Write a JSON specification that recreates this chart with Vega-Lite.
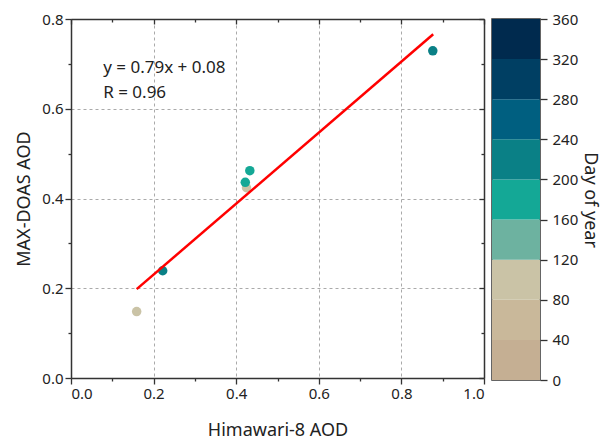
{
  "$schema": "https://vega.github.io/schema/vega-lite/v6.json",
  "background": "white",
  "padding": {"left": 15, "top": 11, "right": 5, "bottom": 5},
  "bounds": "flush",
  "spacing": 8,
  "config": {
    "font": "Noto Sans",
    "axis": {"labelFont": "Noto Sans", "titleFont": "Noto Sans", "labelColor": "#222", "titleColor": "#222", "titleFontWeight": "normal", "domainColor": "#333", "tickColor": "#333", "domainWidth": 1.5, "tickWidth": 1.3}
  },
  "datasets": {
    "points": [
      {"himawari": 0.159, "maxdoas": 0.148, "day": 100},
      {"himawari": 0.222, "maxdoas": 0.239, "day": 215},
      {"himawari": 0.425, "maxdoas": 0.424, "day": 100},
      {"himawari": 0.422, "maxdoas": 0.436, "day": 180},
      {"himawari": 0.433, "maxdoas": 0.462, "day": 180},
      {"himawari": 0.876, "maxdoas": 0.729, "day": 215}
    ],
    "fit": [
      {"himawari": 0.159, "maxdoas": 0.198},
      {"himawari": 0.877, "maxdoas": 0.766}
    ],
    "note": [
      {"himawari": 0.078, "maxdoas": 0.690, "label": "y = 0.79x + 0.08"},
      {"himawari": 0.078, "maxdoas": 0.634, "label": "R = 0.96"}
    ],
    "bins": [
      {"lo": 0, "hi": 40},
      {"lo": 40, "hi": 80},
      {"lo": 80, "hi": 120},
      {"lo": 120, "hi": 160},
      {"lo": 160, "hi": 200},
      {"lo": 200, "hi": 240},
      {"lo": 240, "hi": 280},
      {"lo": 280, "hi": 320},
      {"lo": 320, "hi": 360}
    ]
  },
  "resolve": {"scale": {"color": "shared"}},
  "hconcat": [
    {
      "width": 413,
      "height": 359,
      "view": {"stroke": null},
      "resolve": {"axis": {"x": "independent", "y": "independent"}},
      "layer": [
        {
          "data": {"name": "points"},
          "mark": {"type": "point", "opacity": 0},
          "encoding": {
            "x": {"field": "himawari", "type": "quantitative", "scale": {"domain": [0, 1], "nice": false},
              "axis": {"orient": "top", "labels": false, "title": null, "grid": false, "values": [0,0.1,0.2,0.3,0.4,0.5,0.6,0.7,0.8,0.9,1.0],
                "tickSize": {"condition": {"test": "round(datum.value*10)%2==1", "value": -3}, "value": -5}}},
            "y": {"field": "maxdoas", "type": "quantitative", "scale": {"domain": [0, 0.8], "nice": false},
              "axis": {"orient": "right", "labels": false, "title": null, "grid": false, "values": [0,0.1,0.2,0.3,0.4,0.5,0.6,0.7,0.8],
                "tickSize": {"condition": {"test": "round(datum.value*10)%2==1", "value": -3}, "value": -5}}}
          }
        },
        {
          "data": {"name": "points"},
          "mark": {"type": "circle", "size": 90, "opacity": 1},
          "encoding": {
            "x": {"field": "himawari", "type": "quantitative", "scale": {"domain": [0, 1], "nice": false},
              "axis": {"orient": "bottom", "title": "Himawari-8 AOD", "titleFontSize": 18, "titlePadding": 20, "labelFontSize": 15, "labelPadding": 2,
                "values": [0,0.1,0.2,0.3,0.4,0.5,0.6,0.7,0.8,0.9,1.0],
                "labelExpr": "round(datum.value*10)%2==1 ? '' : format(datum.value, '.1f')",
                "tickSize": {"condition": {"test": "round(datum.value*10)%2==1", "value": 3}, "value": 6},
                "grid": true, "gridColor": "#aaa", "gridDash": [3, 3], "gridWidth": 1,
                "gridOpacity": {"condition": {"test": "round(datum.value*10)%2==1", "value": 0}, "value": 1}}},
            "y": {"field": "maxdoas", "type": "quantitative", "scale": {"domain": [0, 0.8], "nice": false},
              "axis": {"orient": "left", "title": "MAX-DOAS AOD", "titleFontSize": 18, "titlePadding": 8, "labelFontSize": 15, "labelPadding": 2,
                "values": [0,0.1,0.2,0.3,0.4,0.5,0.6,0.7,0.8],
                "labelExpr": "round(datum.value*10)%2==1 ? '' : format(datum.value, '.1f')",
                "tickSize": {"condition": {"test": "round(datum.value*10)%2==1", "value": 3}, "value": 6},
                "grid": true, "gridColor": "#aaa", "gridDash": [3, 3], "gridWidth": 1,
                "gridOpacity": {"condition": {"test": "round(datum.value*10)%2==1", "value": 0}, "value": 1}}},
            "color": {"field": "day", "type": "quantitative", "legend": null,
              "scale": {"type": "threshold", "domain": [40, 80, 120, 160, 200, 240, 280, 320],
                "range": ["#C5AF93", "#C9B89A", "#CAC3A6", "#6DB2A0", "#14A896", "#0A8086", "#005F80", "#003F63", "#002A4E"]}}
          }
        },
        {
          "data": {"name": "fit"},
          "mark": {"type": "line", "color": "#FF0000", "strokeWidth": 2.5},
          "encoding": {
            "x": {"field": "himawari", "type": "quantitative", "axis": null},
            "y": {"field": "maxdoas", "type": "quantitative", "axis": null}
          }
        },
        {
          "data": {"name": "note"},
          "mark": {"type": "text", "align": "left", "baseline": "middle", "fontSize": 17, "color": "#222"},
          "encoding": {
            "x": {"field": "himawari", "type": "quantitative", "axis": null},
            "y": {"field": "maxdoas", "type": "quantitative", "axis": null},
            "text": {"field": "label"}
          }
        }
      ]
    },
    {
      "width": 48,
      "height": 361,
      "view": {"stroke": "#333", "strokeWidth": 1.5},
      "data": {"name": "bins"},
      "mark": {"type": "rect"},
      "encoding": {
        "y": {"field": "lo", "type": "quantitative", "scale": {"domain": [0, 360], "nice": false},
          "axis": {"orient": "right", "title": "Day of year", "titleFontSize": 18, "titlePadding": 3, "labelFontSize": 15, "labelPadding": 5,
            "values": [0,40,80,120,160,200,240,280,320,360], "tickSize": 7, "domain": false, "grid": false}},
        "y2": {"field": "hi"},
        "color": {"field": "lo", "type": "quantitative", "legend": null,
          "scale": {"type": "threshold", "domain": [40, 80, 120, 160, 200, 240, 280, 320],
            "range": ["#C5AF93", "#C9B89A", "#CAC3A6", "#6DB2A0", "#14A896", "#0A8086", "#005F80", "#003F63", "#002A4E"]}}
      }
    }
  ]
}
